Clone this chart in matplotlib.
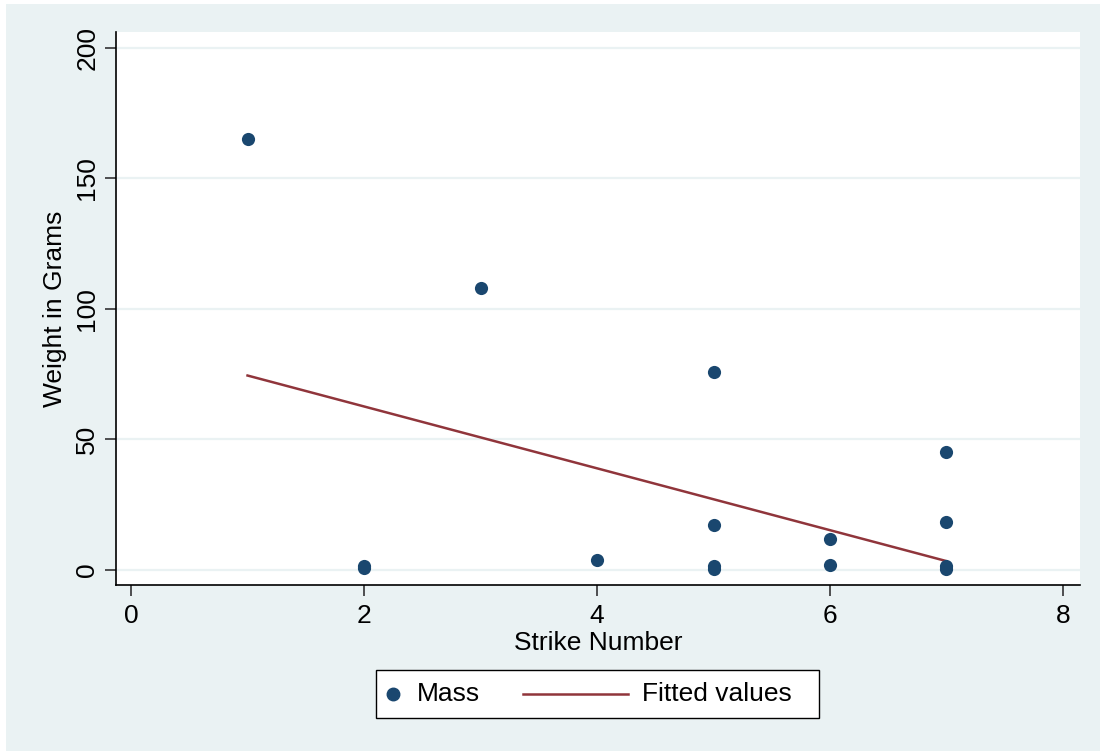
import matplotlib
matplotlib.use("Agg")
import matplotlib.pyplot as plt
from matplotlib.lines import Line2D
from matplotlib.patches import Rectangle

# Data
strike_number = [1, 2, 2, 3, 4, 5, 5, 5, 5, 6, 6, 7, 7, 7, 7]
mass_grams = [165, 0.6, 1.6, 108, 3.7, 76, 17.2, 0.5, 1.6, 11.9, 1.9, 45.2, 18.4, 0.5, 1.6]
fit_x = [1, 7]
fit_y = [74.5, 3.4]
x_ticks = [0, 2, 4, 6, 8]
y_ticks = [0, 50, 100, 150, 200]
legend_labels = ["Mass", "Fitted values"]

BG = "#EAF2F3"
NAVY = "#1A476F"
MAROON = "#90353B"
W, H = 1100, 751

plt.rcParams["font.family"] = ["Liberation Sans", "DejaVu Sans"]


def fx(px):
    return px / W


def fy(py):
    return 1 - py / H


fig = plt.figure(figsize=(W / 100, H / 100), dpi=100, facecolor="white")
# light Stata background with a thin white margin at left and top only
fig.add_artist(Rectangle((fx(6), -0.02), 1.05, fy(4) + 0.02, transform=fig.transFigure,
                         facecolor=BG, edgecolor="none", lw=0, zorder=-10))

ax = fig.add_axes([116 / W, 1 - 585 / H, (1080 - 116) / W, (585 - 32) / H])
ax.set_facecolor("white")

ax.set_xlim(-0.129, 8.146)
ax.set_ylim(-5.75, 206.1)

for y in y_ticks:
    ax.axhline(y, color=BG, lw=1.6, zorder=0)

ax.scatter(strike_number, mass_grams, s=90, color=NAVY, zorder=3, linewidths=0)
ax.plot(fit_x, fit_y, color=MAROON, lw=1.8, zorder=2)

ax.set_xticks(x_ticks)
ax.set_yticks(y_ticks)
ax.set_xticklabels([str(v) for v in x_ticks])
ax.set_yticklabels([str(v) for v in y_ticks], rotation=90, va="center")
ax.tick_params(axis="both", labelsize=19, length=8, width=1.2, color="#333333")
ax.tick_params(axis="y", pad=4)
ax.tick_params(axis="x", pad=6)

for side in ["top", "right"]:
    ax.spines[side].set_visible(False)
for side in ["left", "bottom"]:
    ax.spines[side].set_linewidth(1.2)
    ax.spines[side].set_color("black")

ax.set_xlabel("Strike Number", fontsize=19, labelpad=2)
ax.set_ylabel("Weight in Grams", fontsize=19, labelpad=6)

# Legend box (Stata style), positioned in figure pixel coordinates
fig.add_artist(Rectangle((fx(376), fy(718)), fx(819) - fx(376), fy(670) - fy(718),
                         transform=fig.transFigure, facecolor="white",
                         edgecolor="black", lw=1.0))
ycen = fy(694)
fig.add_artist(Line2D([fx(393)], [ycen], marker="o", markersize=9, color=NAVY,
                      linestyle="none", transform=fig.transFigure))
fig.text(fx(417), ycen, legend_labels[0], fontsize=19, va="center", ha="left")
fig.add_artist(Line2D([fx(523), fx(628)], [ycen, ycen], color=MAROON, lw=1.8,
                      transform=fig.transFigure))
fig.text(fx(642), ycen, legend_labels[1], fontsize=19, va="center", ha="left")

fig.savefig("out.png", dpi=100, facecolor="white")
